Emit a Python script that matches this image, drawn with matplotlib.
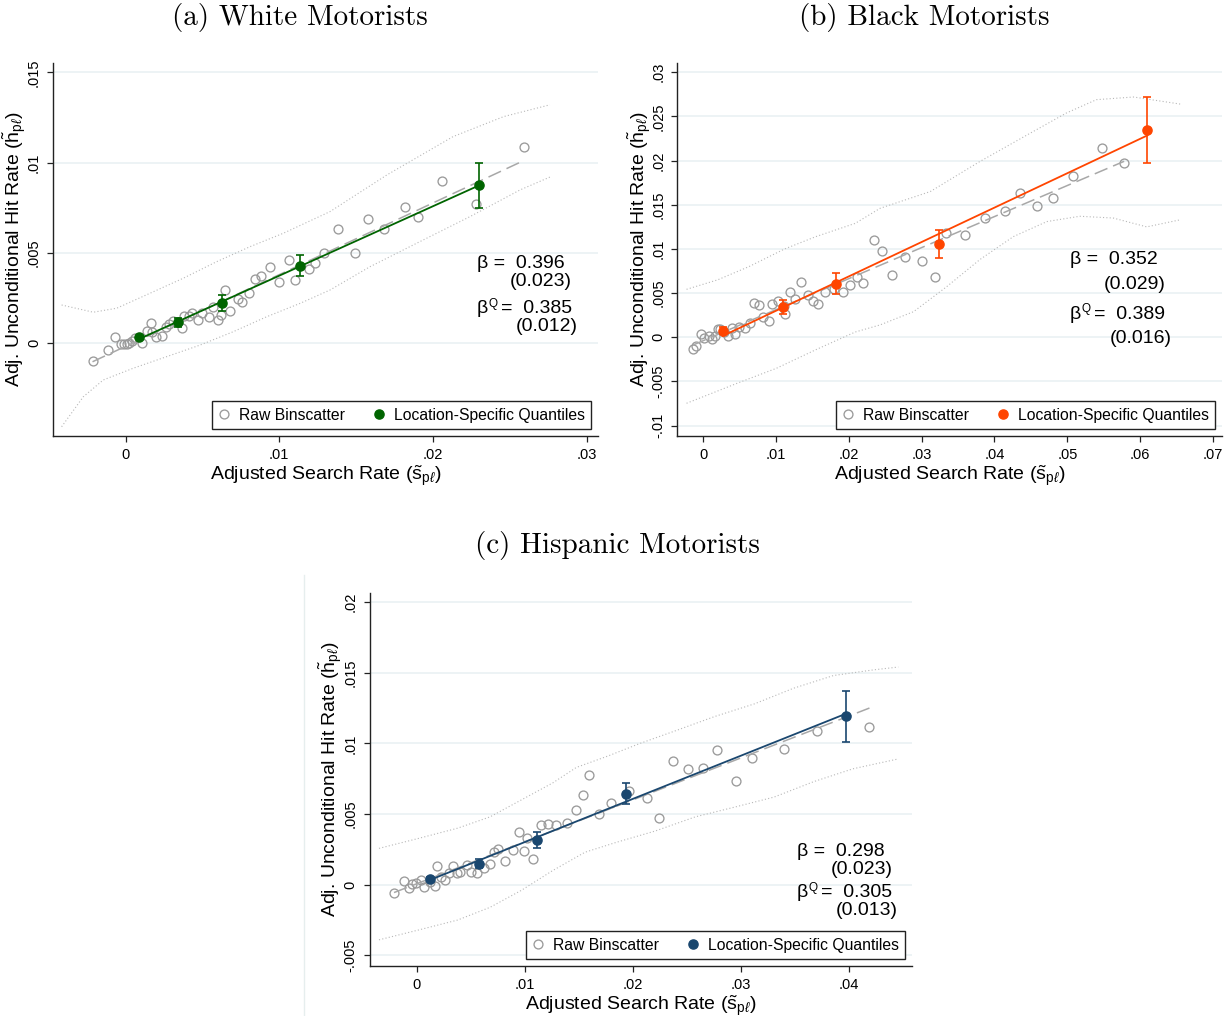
import numpy as np
import matplotlib
matplotlib.use("Agg")
import matplotlib.pyplot as plt
from matplotlib.lines import Line2D
from matplotlib.ticker import FuncFormatter

plt.rcParams["font.family"] = ["Liberation Sans", "DejaVu Sans"]
plt.rcParams["mathtext.fontset"] = "custom"
plt.rcParams["mathtext.rm"] = "Liberation Sans"
plt.rcParams["mathtext.it"] = "Liberation Sans:italic"

# ---- (a) White motorists ----
white_raw_x = [-0.00215, -0.00115, -0.0007, -0.0003, -0.0001, 0.0001, 0.00025, 0.0004, 0.0006,
               0.0011, 0.0014, 0.00165, 0.0017, 0.002, 0.0024, 0.0026, 0.0028, 0.0031, 0.0037,
               0.0038, 0.0041, 0.0043, 0.0047, 0.005, 0.0054, 0.0057, 0.006, 0.0062, 0.0065,
               0.0068, 0.0073, 0.0076, 0.008, 0.0084, 0.0088, 0.0094, 0.0100, 0.0106, 0.0110,
               0.0119, 0.0123, 0.0129, 0.0138, 0.0149, 0.0158, 0.0168, 0.0182, 0.0190, 0.0206,
               0.0228, 0.0259]
white_raw_y = [-0.00098, -0.00039, 0.00037, -0.00006, -0.00006, -0.00004, 0.0, 0.0001, 0.00028,
               0.00004, 0.00066, 0.0011, 0.0006, 0.00037, 0.00042, 0.00089, 0.00107, 0.00122, 0.00087,
               0.0015, 0.0015, 0.0017, 0.0013, 0.00168, 0.00144, 0.0020, 0.0013, 0.00155, 0.00295,
               0.0018, 0.00245, 0.0023, 0.0028, 0.00354, 0.0037, 0.0042, 0.0034, 0.0046, 0.0035,
               0.0041, 0.00445, 0.0050, 0.0063, 0.0050, 0.0069, 0.0063, 0.00755, 0.0070, 0.0090,
               0.0077, 0.01087]
white_q_x = [0.00087, 0.00344, 0.0063, 0.01133, 0.0230]
white_q_y = [0.00033, 0.00116, 0.00223, 0.0043, 0.00875]
white_q_err = [0.0001, 0.00024, 0.00042, 0.0006, 0.00124]
white_hi_x = [-0.00416, -0.0021, -0.00058, 0.00159, 0.00375, 0.00593, 0.0081, 0.01026, 0.0133,
              0.017, 0.0213, 0.0246, 0.0276]
white_hi_y = [0.00212, 0.00172, 0.00194, 0.00277, 0.0036, 0.00452, 0.00535, 0.00609, 0.00729,
              0.00932, 0.01144, 0.01255, 0.0132]
white_lo_x = [-0.00416, -0.00275, -0.00145, 0.0005, 0.00267, 0.00484, 0.007, 0.00918, 0.01135,
              0.0133, 0.0159, 0.01915, 0.0224, 0.02566, 0.0276]
white_lo_y = [-0.00462, -0.00296, -0.00203, -0.00138, -0.00074, -0.0001, 0.00064, 0.00147, 0.00221,
              0.00295, 0.00424, 0.00563, 0.00701, 0.00849, 0.0092]
white_stats = ["0.396", "(0.023)", "0.385", "(0.012)"]

# ---- (b) Black motorists ----
black_raw_x = [-0.0014, -0.00097, -0.00027, 0.0002, 0.0008, 0.0013, 0.0017, 0.002, 0.0024, 0.0029,
               0.0034, 0.004, 0.0044, 0.0049, 0.0057, 0.0065, 0.007, 0.0077, 0.0083, 0.009,
               0.0095, 0.0103, 0.0111, 0.0113, 0.0119, 0.0126, 0.0135, 0.0144, 0.0151, 0.0158,
               0.0167, 0.018, 0.0192, 0.0202, 0.0211, 0.022, 0.0234, 0.0246, 0.0259, 0.0277,
               0.0301, 0.0319, 0.0334, 0.0359, 0.0387, 0.0415, 0.0435, 0.0458, 0.048, 0.0508,
               0.0547, 0.0578]
black_raw_y = [-0.00128, -0.00098, 0.00038, -0.00008, 0.00019, -0.00015, 0.00015, 0.00098, 0.00098, 0.00064,
               0.00019, 0.0011, 0.00038, 0.0012, 0.001, 0.0016, 0.00385, 0.0036, 0.0023, 0.00185,
               0.0038, 0.0041, 0.00355, 0.0026, 0.0051, 0.0043, 0.0063, 0.0048, 0.0041, 0.0038,
               0.0051, 0.0055, 0.0051, 0.0059, 0.0068, 0.0062, 0.011, 0.0098, 0.0071, 0.0091,
               0.0086, 0.0068, 0.01185, 0.01155, 0.01355, 0.0143, 0.0163, 0.0149, 0.0158, 0.0183,
               0.0214, 0.0197]
black_q_x = [0.0027, 0.011, 0.0183, 0.0324, 0.061]
black_q_y = [0.00075, 0.00347, 0.00608, 0.01057, 0.02347]
black_q_err = [0.0004, 0.0008, 0.0012, 0.0016, 0.0037]
black_hi_x = [-0.00226, 0.002, 0.0063, 0.0112, 0.0155, 0.0209, 0.0243, 0.0312, 0.038, 0.0449,
              0.0499, 0.054, 0.0591, 0.0655]
black_hi_y = [0.00543, 0.0065, 0.008, 0.01, 0.0114, 0.0129, 0.0146, 0.0165, 0.0199, 0.0231,
              0.0254, 0.0269, 0.0272, 0.0264]
black_lo_x = [-0.00226, 0.0047, 0.0101, 0.0155, 0.0209, 0.0243, 0.0289, 0.0334, 0.038, 0.0426,
              0.0472, 0.0517, 0.0563, 0.0609, 0.0655]
black_lo_y = [-0.00747, -0.0052, -0.0035, -0.0014, 0.0006, 0.0014, 0.0029, 0.0057, 0.0088, 0.0114,
              0.0131, 0.0137, 0.0135, 0.0125, 0.0133]
black_stats = ["0.352", "(0.029)", "0.389", "(0.016)"]

# ---- (c) Hispanic motorists ----
hisp_raw_x = [-0.00209, -0.00113, -0.00073, -0.0004, -0.0001, 0.00037, 0.00073, 0.00128, 0.00168,
              0.0019, 0.0023, 0.00267, 0.003, 0.0034, 0.00377, 0.004, 0.00468, 0.005, 0.00556,
              0.0062, 0.0068, 0.00717, 0.00757, 0.00816, 0.00893, 0.0095, 0.0099, 0.0102, 0.0108,
              0.0115, 0.0122, 0.0129, 0.0139, 0.01475, 0.0154, 0.016, 0.0169, 0.018, 0.01965,
              0.0213, 0.02243, 0.0237, 0.02514, 0.02649, 0.02784, 0.02956, 0.03106, 0.03403,
              0.03703, 0.04193]
hisp_raw_y = [-0.00061, 0.00026, -0.00026, 0.00002, 0.0001, 0.00033, -0.00019, 0.00021, -0.00007,
              0.0013, 0.00052, 0.00033, 0.0008, 0.00134, 0.00085, 0.00087, 0.00137, 0.00092, 0.0008,
              0.00118, 0.00146, 0.00231, 0.00255, 0.00165, 0.00245, 0.00375, 0.00236, 0.00333, 0.00182,
              0.00422, 0.00427, 0.0042, 0.00439, 0.00526, 0.00634, 0.00778, 0.00498, 0.00575, 0.00665,
              0.00613, 0.00469, 0.00875, 0.00816, 0.00823, 0.00955, 0.00736, 0.00894, 0.00962,
              0.01085, 0.01118]
hisp_q_x = [0.00124, 0.00578, 0.01116, 0.01943, 0.03977]
hisp_q_y = [0.00042, 0.00149, 0.00314, 0.00644, 0.01193]
hisp_q_err = [0.00015, 0.0003, 0.00057, 0.00075, 0.0018]
hisp_hi_x = [-0.00348, 0.0002, 0.0038, 0.0068, 0.0097, 0.0126, 0.0148, 0.0177, 0.0207, 0.024,
             0.0276, 0.0313, 0.0349, 0.0386, 0.0423, 0.0446]
hisp_hi_y = [0.00257, 0.00328, 0.004, 0.0048, 0.006, 0.0072, 0.0083, 0.0091, 0.01, 0.0109,
             0.0119, 0.0128, 0.0139, 0.0148, 0.0152, 0.0154]
hisp_lo_x = [-0.00348, 0.0002, 0.0038, 0.0068, 0.0097, 0.0126, 0.0156, 0.0185, 0.0221, 0.0258,
             0.0295, 0.0331, 0.0368, 0.0404, 0.0446]
hisp_lo_y = [-0.0039, -0.0032, -0.0025, -0.0016, -0.0004, 0.001, 0.0023, 0.003, 0.0038, 0.0048,
             0.0055, 0.0062, 0.0073, 0.0082, 0.0089]
hisp_stats = ["0.298", "(0.023)", "0.305", "(0.013)"]

GRID = "#E8F0F2"
RAW = "#9A9A9A"


def stata_fmt(v, pos):
    s = "%g" % round(v, 4)
    if s.startswith("0."):
        s = s[1:]
    elif s.startswith("-0."):
        s = "-" + s[2:]
    return s


def draw_panel(ax, raw_x, raw_y, q_x, q_y, q_err, hi_x, hi_y, lo_x, lo_y, color,
               xlim, ylim, xticks, yticks, stats, text_pos, ylab_x, title, title_xy):
    for yt in yticks:
        ax.axhline(yt, color=GRID, lw=1.1, zorder=0)

    # confidence bands
    ax.plot(hi_x, hi_y, color="#B8B8B8", lw=0.8, ls=(0, (1, 2)), zorder=1)
    ax.plot(lo_x, lo_y, color="#B8B8B8", lw=0.8, ls=(0, (1, 2)), zorder=1)

    # raw binscatter + linear fit
    ax.plot(raw_x, raw_y, "o", ms=6.4, mfc="none", mec=RAW, mew=0.95, zorder=2)
    b, a = np.polyfit(raw_x, raw_y, 1)
    xs = np.array([min(raw_x), max(raw_x)])
    ax.plot(xs, a + b * xs, color="#A8A8A8", lw=1.1, ls=(0, (9, 4)), zorder=2)

    # quantiles + fit
    bq, aq = np.polyfit(q_x, q_y, 1)
    xq = np.array([min(q_x), max(q_x)])
    ax.plot(xq, aq + bq * xq, color=color, lw=1.3, zorder=3)
    ax.errorbar(q_x, q_y, yerr=q_err, fmt="none", ecolor=color, elinewidth=1.2,
                capsize=3.2, capthick=1.2, zorder=4)
    ax.plot(q_x, q_y, "o", ms=6.6, color=color, zorder=5)

    ax.set_xlim(xlim)
    ax.set_ylim(ylim)
    ax.set_xticks(xticks)
    ax.set_yticks(yticks)
    ax.xaxis.set_major_formatter(FuncFormatter(stata_fmt))
    ax.yaxis.set_major_formatter(FuncFormatter(stata_fmt))
    for s in ["top", "right"]:
        ax.spines[s].set_visible(False)
    for s in ["left", "bottom"]:
        ax.spines[s].set_linewidth(1.0)
        ax.spines[s].set_color("#222222")
    ax.tick_params(direction="out", length=4.5, width=0.9, labelsize=10.5, color="#222222", pad=4)
    ax.tick_params(axis="y", labelrotation=90)
    for lab in ax.get_yticklabels():
        lab.set_va("center")

    ax.set_xlabel(r"Adjusted Search Rate ($\tilde{\mathrm{s}}_{\mathrm{p}\ell}$)", fontsize=14, labelpad=1)
    ax.set_ylabel(r"Adj. Unconditional Hit Rate ($\tilde{\mathrm{h}}_{\mathrm{p}\ell}$)", fontsize=14)
    ax.yaxis.set_label_coords(ylab_x, 0.5)
    ax.yaxis.label.set_va("center")

    # coefficient annotations
    (x1, y1), (x2, y2), (x3, y3), (x4, y4) = text_pos
    ax.text(x1, y1, "\u03b2 =  " + stats[0], transform=ax.transAxes, fontsize=14, va="center")
    ax.text(x2, y2, stats[1], transform=ax.transAxes, fontsize=14, ha="right", va="center")
    ax.text(x3, y3, "\u03b2", transform=ax.transAxes, fontsize=14, va="center")
    ax.annotate("Q", xy=(x3, y3), xycoords="axes fraction", xytext=(8.2, 3.5),
                textcoords="offset points", fontsize=8.5, va="center")
    ax.annotate("=  " + stats[2], xy=(x3, y3), xycoords="axes fraction", xytext=(17, 0),
                textcoords="offset points", fontsize=14, va="center")
    ax.text(x4, y4, stats[3], transform=ax.transAxes, fontsize=14, ha="right", va="center")

    handles = [Line2D([], [], ls="none", marker="o", ms=6.4, mfc="none", mec=RAW, mew=0.95),
               Line2D([], [], ls="none", marker="o", ms=6.6, color=color)]
    leg = ax.legend(handles, ["Raw Binscatter", "Location-Specific Quantiles"], ncol=2,
                    loc="lower right", bbox_to_anchor=(0.988, 0.017), fontsize=11.3,
                    frameon=True, fancybox=False, framealpha=1, edgecolor="#222222",
                    handlelength=0.7, handletextpad=0.6, columnspacing=1.8,
                    borderpad=0.42, borderaxespad=0)
    leg.get_frame().set_linewidth(1.0)

    ax.figure.text(title_xy[0], title_xy[1], title, family="cmr10", fontsize=21,
                   ha="center", va="center")


W, H = 1231, 1016
fig = plt.figure(figsize=(W / 100, H / 100), dpi=100)

ax_a = fig.add_axes([52.7 / W, 1 - 435.7 / H, (598 - 52.7) / W, (435.7 - 63) / H])
ax_b = fig.add_axes([677 / W, 1 - 435.7 / H, (1222 - 677) / W, (435.7 - 63) / H])
ax_c = fig.add_axes([369.6 / W, 1 - 965.7 / H, (912 - 369.6) / W, (965.7 - 592.7) / H])

draw_panel(ax_a, white_raw_x, white_raw_y, white_q_x, white_q_y, white_q_err,
           white_hi_x, white_hi_y, white_lo_x, white_lo_y, "#006400",
           (-0.00474, 0.03073), (-0.005115, 0.015515), [0, 0.01, 0.02, 0.03],
           [0, 0.005, 0.01, 0.015], white_stats,
           [(0.778, 0.4615), (0.9523, 0.4132), (0.778, 0.340), (0.9633, 0.2925)], -0.07,
           "(a) White Motorists", (300 / W, 1 - 17 / H))

draw_panel(ax_b, black_raw_x, black_raw_y, black_q_x, black_q_y, black_q_err,
           black_hi_x, black_hi_y, black_lo_x, black_lo_y, "#FF4500",
           (-0.00357, 0.07123), (-0.01114, 0.03105), [0, 0.01, 0.02, 0.03, 0.04, 0.05, 0.06, 0.07],
           [-0.01, -0.005, 0, 0.005, 0.01, 0.015, 0.02, 0.025, 0.03], black_stats,
           [(0.721, 0.474), (0.897, 0.407), (0.721, 0.3265), (0.908, 0.2595)], -0.069,
           "(b) Black Motorists", (924 / W, 1 - 17 / H))

draw_panel(ax_c, hisp_raw_x, hisp_raw_y, hisp_q_x, hisp_q_y, hisp_q_err,
           hisp_hi_x, hisp_hi_y, hisp_lo_x, hisp_lo_y, "#1A476F",
           (-0.00435, 0.04587), (-0.00573, 0.02066), [0, 0.01, 0.02, 0.03, 0.04],
           [-0.005, 0, 0.005, 0.01, 0.015, 0.02], hisp_stats,
           [(0.788, 0.3075), (0.965, 0.259), (0.788, 0.195), (0.9745, 0.147)], -0.072,
           "(c) Hispanic Motorists", (617 / W, 1 - 546 / H))

# faint border line left of panel (c)
fig.add_artist(Line2D([304 / W, 304 / W], [0, 1 - 575 / H], color="#E6EEEE", lw=1.0))

fig.savefig("out.png", dpi=100)
